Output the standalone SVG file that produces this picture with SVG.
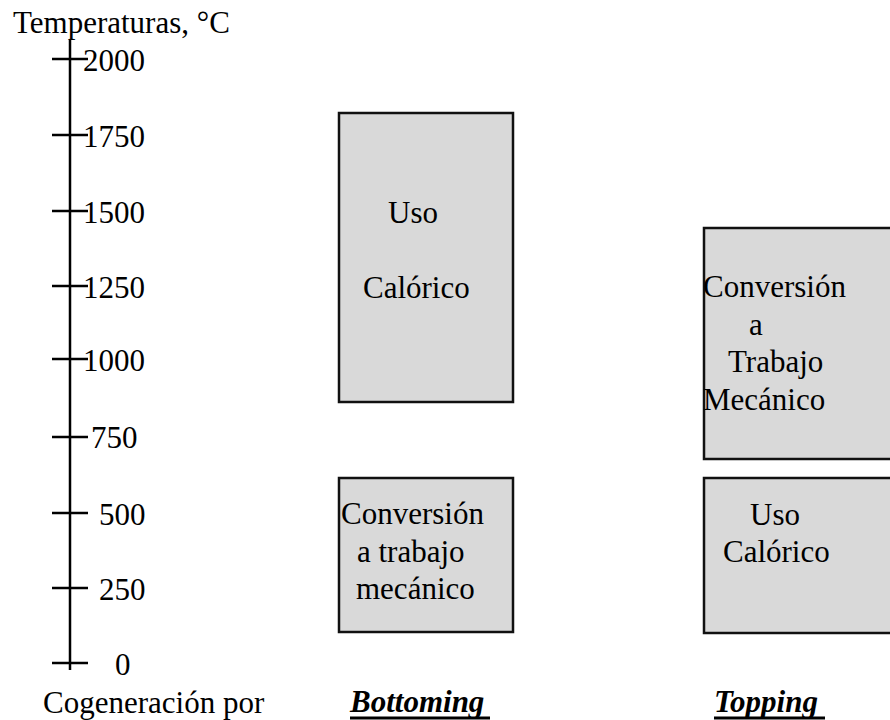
<svg xmlns="http://www.w3.org/2000/svg" width="890" height="720" viewBox="0 0 890 720">
<style>
text{font-family:"Liberation Serif","Times New Roman",serif;font-size:31px;fill:#000}
.bi{font-weight:bold;font-style:italic}
.box{fill:#d9d9d9;stroke:#111;stroke-width:2.5}
.ax{stroke:#000;stroke-width:2.5;fill:none}
</style>
<rect width="890" height="720" fill="#fff"/>
<g id="axis">
<text x="13" y="33">Temperaturas, °C</text>
<line class="ax" x1="70" y1="40" x2="70" y2="670"/>
<g class="ax">
<line x1="52" y1="59" x2="88" y2="59"/>
<line x1="52" y1="135" x2="88" y2="135"/>
<line x1="52" y1="211" x2="88" y2="211"/>
<line x1="52" y1="286" x2="88" y2="286"/>
<line x1="52" y1="359" x2="88" y2="359"/>
<line x1="52" y1="437" x2="88" y2="437"/>
<line x1="52" y1="513" x2="88" y2="513"/>
<line x1="52" y1="588" x2="88" y2="588"/>
<line x1="52" y1="663" x2="88" y2="663"/>
</g>
<text x="83" y="71">2000</text>
<text x="83" y="147">1750</text>
<text x="83" y="223">1500</text>
<text x="83" y="298">1250</text>
<text x="83" y="371">1000</text>
<text x="91" y="448">750</text>
<text x="99" y="525">500</text>
<text x="99" y="600">250</text>
<text x="115" y="675">0</text>
<text x="43" y="713">Cogeneración por</text>
</g>
<g id="bottoming-heat">
<rect class="box" x="339" y="113" width="174" height="289"/>
<text x="388" y="223">Uso</text>
<text x="363" y="298">Calórico</text>
</g>
<g id="bottoming-work">
<rect class="box" x="339" y="478" width="174" height="154"/>
<text x="341" y="524">Conversión</text>
<text x="357" y="562">a trabajo</text>
<text x="356" y="599">mecánico</text>
</g>
<g id="bottoming-label">
<text class="bi" x="350" y="712">Bottoming</text>
<line x1="350" y1="718" x2="490" y2="718" stroke="#000" stroke-width="3"/>
</g>
<g id="topping-work">
<rect class="box" x="704" y="228" width="200" height="231"/>
<text x="703" y="297">Conversión</text>
<text x="749" y="335">a</text>
<text x="728" y="372">Trabajo</text>
<text x="703" y="410">Mecánico</text>
</g>
<g id="topping-heat">
<rect class="box" x="704" y="478" width="200" height="155"/>
<text x="750" y="525">Uso</text>
<text x="723" y="562">Calórico</text>
</g>
<g id="topping-label">
<text class="bi" x="714" y="712">Topping</text>
<line x1="714" y1="718" x2="825" y2="718" stroke="#000" stroke-width="3"/>
</g>
<g id="connectors"/>
</svg>
